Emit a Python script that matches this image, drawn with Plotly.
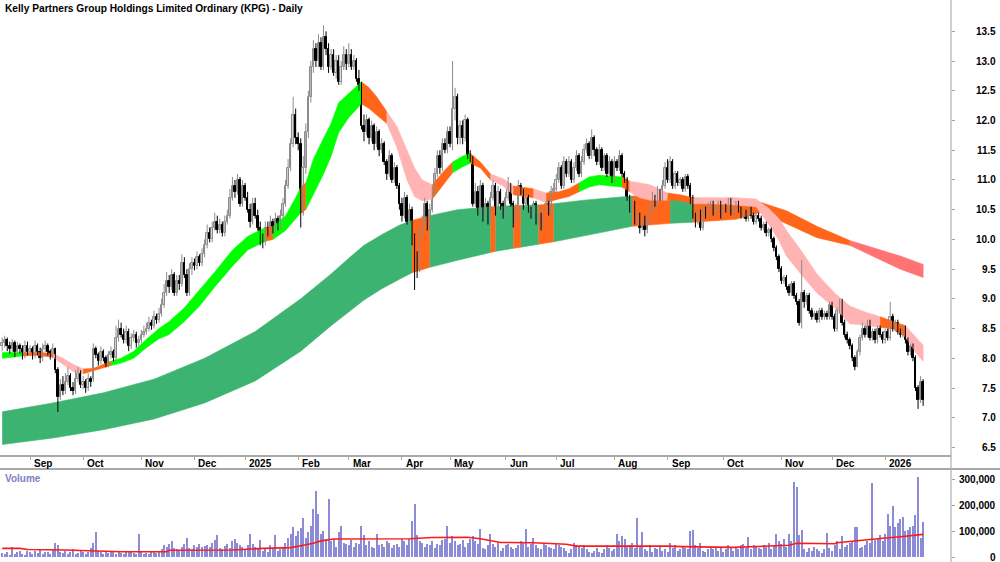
import numpy as np
import pandas as pd
import plotly.graph_objects as go

TITLE = "Kelly Partners Group Holdings Limited Ordinary (KPG) - Daily"
START, END = "2024-08-16", "2026-01-23"
HOLIDAYS = ["2024-12-25", "2024-12-26", "2025-01-01", "2025-01-27", "2025-04-18",
            "2025-04-21", "2025-04-25", "2025-06-09", "2025-12-25", "2025-12-26", "2026-01-01"]

opens = [
    8.20, 8.25, 8.30, 8.20, 8.15, 8.25, 8.10, 8.20, 8.15, 8.05,
    8.20, 8.10, 8.15, 8.05, 8.20, 8.10, 8.00, 8.15, 8.20, 8.10,
    8.05, 8.15, 7.80, 7.35, 7.55, 7.45, 7.60, 7.70, 7.50, 7.45,
    7.65, 7.75, 7.55, 7.60, 7.50, 7.65, 7.65, 8.15, 8.05, 7.95,
    8.10, 8.00, 7.90, 8.05, 8.10, 8.00, 8.35, 8.50, 8.40, 8.30,
    8.45, 8.20, 8.35, 8.40, 8.25, 8.30, 8.40, 8.45, 8.50, 8.60,
    8.55, 8.70, 8.65, 8.75, 8.90, 9.10, 9.30, 9.20, 9.40, 9.10,
    9.30, 9.25, 9.60, 9.40, 9.10, 9.50, 9.60, 9.55, 9.70, 9.60,
    9.75, 9.90, 10.10, 10.00, 10.20, 10.30, 10.15, 10.25, 10.10, 10.30,
    10.40, 10.70, 10.90, 10.80, 11.00, 10.60, 10.90, 10.70, 10.50, 10.30,
    10.60, 10.40, 10.20, 10.00, 9.95, 10.20, 10.10, 10.30, 10.15, 10.35,
    10.20, 10.40, 10.60, 10.90, 11.20, 11.60, 12.10, 11.70, 11.60, 10.45,
    11.20, 11.80, 12.40, 12.90, 13.20, 13.00, 13.30, 12.90, 13.40, 13.20,
    12.90, 13.10, 12.80, 13.00, 12.65, 12.90, 13.10, 12.95, 13.10, 12.90,
    13.00, 12.70, 12.60, 11.90, 11.80, 12.00, 11.70, 11.90, 11.60, 11.80,
    11.50, 11.60, 11.30, 11.10, 11.40, 11.00, 11.20, 10.90, 10.60, 10.40,
    10.70, 10.30, 10.50, 10.00, 9.60, 9.50, 10.10, 10.30, 10.60, 10.20,
    10.50, 10.80, 11.10, 11.40, 11.20, 11.60, 11.50, 11.80, 11.60, 12.20,
    12.40, 11.70, 11.90, 11.70, 12.00, 11.40, 11.35, 10.60, 10.80, 10.50,
    10.90, 10.40, 10.60, 10.30, 10.70, 10.90, 10.50, 10.80, 10.60, 10.40,
    10.70, 10.90, 10.60, 10.30, 10.50, 10.90, 10.80, 10.60, 10.70, 10.50,
    10.40, 10.60, 10.30, 10.40, 10.20, 10.50, 10.60, 10.45, 10.80, 10.85,
    11.00, 11.20, 10.90, 11.30, 11.10, 11.30, 11.00, 11.20, 11.40, 11.10,
    11.30, 11.50, 11.60, 11.40, 11.70, 11.50, 11.30, 11.50, 11.20, 11.40,
    11.10, 11.30, 11.00, 11.30, 11.20, 11.40, 11.10, 11.00, 10.70, 10.50,
    10.60, 10.30, 10.40, 10.20, 10.35, 10.15, 10.30, 10.50, 10.70, 10.60,
    10.80, 10.70, 10.90, 11.20, 11.00, 11.30, 10.90, 11.10, 10.95, 11.00,
    10.85, 11.05, 10.90, 10.70, 10.40, 10.30, 10.45, 10.20, 10.50, 10.40,
    10.55, 10.60, 10.45, 10.50, 10.60, 10.40, 10.55, 10.50, 10.65, 10.45,
    10.50, 10.60, 10.50, 10.40, 10.45, 10.35, 10.50, 10.40, 10.30, 10.40,
    10.35, 10.20, 10.25, 10.10, 10.15, 10.00, 9.85, 9.70, 9.50, 9.30,
    9.35, 9.20, 9.10, 9.25, 9.05, 8.95, 8.60, 9.10, 8.95, 9.05,
    8.80, 8.70, 8.75, 8.65, 8.80, 8.70, 8.75, 8.70, 8.90, 8.70,
    8.50, 8.80, 8.95, 8.60, 8.40, 8.30, 8.20, 8.00, 7.85, 8.10,
    8.35, 8.50, 8.40, 8.60, 8.35, 8.45, 8.30, 8.50, 8.40, 8.30,
    8.45, 8.35, 8.70, 8.50, 8.60, 8.45, 8.40, 8.50, 8.30, 8.10,
    8.20, 8.00, 7.50, 7.30, 7.60,
]

highs = [
    8.35, 8.38, 8.35, 8.28, 8.32, 8.30, 8.28, 8.25, 8.22, 8.30,
    8.28, 8.22, 8.20, 8.30, 8.25, 8.18, 8.25, 8.30, 8.25, 8.15,
    8.25, 8.18, 7.85, 7.65, 7.70, 7.75, 7.85, 7.75, 7.60, 7.80,
    7.85, 7.80, 7.70, 7.65, 7.75, 7.70, 8.25, 8.20, 8.10, 8.20,
    8.15, 8.05, 8.12, 8.20, 8.15, 8.55, 8.65, 8.60, 8.50, 8.55,
    8.50, 8.42, 8.48, 8.45, 8.38, 8.48, 8.55, 8.60, 8.70, 8.65,
    8.80, 8.75, 8.85, 9.00, 9.25, 9.45, 9.40, 9.50, 9.45, 9.40,
    9.40, 9.75, 9.70, 9.50, 9.60, 9.70, 9.68, 9.80, 9.75, 9.85,
    10.00, 10.25, 10.20, 10.30, 10.45, 10.40, 10.35, 10.30, 10.40, 10.50,
    10.85, 11.05, 11.00, 11.10, 11.05, 11.00, 10.95, 10.80, 10.60, 10.70,
    10.70, 10.50, 10.30, 10.10, 10.30, 10.30, 10.40, 10.35, 10.45, 10.40,
    10.50, 10.70, 11.00, 11.35, 11.70, 12.40, 12.20, 11.80, 11.70, 11.40,
    11.95, 12.50, 13.00, 13.35, 13.30, 13.45, 13.40, 13.60, 13.50, 13.30,
    13.20, 13.20, 13.10, 13.10, 13.00, 13.25, 13.20, 13.30, 13.20, 13.10,
    13.05, 12.85, 12.65, 12.10, 12.10, 12.05, 12.00, 11.95, 11.90, 11.85,
    11.70, 11.65, 11.35, 11.50, 11.45, 11.30, 11.25, 10.95, 10.70, 10.80,
    10.75, 10.60, 10.55, 10.10, 9.80, 10.20, 10.40, 10.70, 10.65, 10.60,
    10.90, 11.20, 11.50, 11.50, 11.70, 11.70, 11.90, 11.90, 13.00, 12.55,
    12.45, 12.00, 12.00, 12.10, 12.05, 11.50, 11.40, 10.95, 10.90, 11.00,
    10.95, 10.70, 10.65, 10.80, 11.00, 10.95, 10.90, 10.85, 10.65, 10.80,
    11.05, 10.95, 10.65, 10.60, 11.00, 10.95, 10.85, 10.80, 10.75, 10.55,
    10.65, 10.65, 10.45, 10.45, 10.55, 10.65, 10.65, 10.90, 10.95, 11.10,
    11.30, 11.25, 11.40, 11.35, 11.40, 11.35, 11.30, 11.50, 11.45, 11.40,
    11.60, 11.70, 11.65, 11.85, 11.75, 11.55, 11.60, 11.55, 11.45, 11.45,
    11.40, 11.35, 11.40, 11.35, 11.50, 11.45, 11.15, 11.05, 10.75, 10.70,
    10.65, 10.45, 10.45, 10.40, 10.40, 10.35, 10.60, 10.80, 10.75, 10.90,
    10.85, 11.00, 11.30, 11.35, 11.40, 11.35, 11.15, 11.15, 11.05, 11.05,
    11.10, 11.10, 10.95, 10.75, 10.45, 10.55, 10.50, 10.55, 10.55, 10.62,
    10.65, 10.65, 10.55, 10.65, 10.65, 10.60, 10.60, 10.70, 10.70, 10.55,
    10.65, 10.65, 10.55, 10.50, 10.50, 10.55, 10.55, 10.45, 10.45, 10.45,
    10.40, 10.30, 10.30, 10.20, 10.20, 10.05, 9.90, 9.75, 9.55, 9.40,
    9.40, 9.25, 9.30, 9.30, 9.10, 9.00, 9.65, 9.15, 9.10, 9.10,
    8.85, 8.80, 8.80, 8.85, 8.85, 8.80, 8.80, 8.95, 8.95, 8.75,
    8.85, 9.00, 9.00, 8.65, 8.45, 8.35, 8.25, 8.05, 8.15, 8.40,
    8.60, 8.55, 8.65, 8.65, 8.50, 8.50, 8.55, 8.55, 8.45, 8.50,
    8.50, 8.95, 8.75, 8.65, 8.65, 8.50, 8.55, 8.55, 8.35, 8.25,
    8.25, 8.05, 7.55, 7.70, 7.65,
]

lows = [
    8.12, 8.18, 8.12, 8.08, 8.10, 8.02, 8.05, 8.08, 7.98, 8.00,
    8.05, 8.05, 7.98, 8.00, 8.05, 7.92, 7.95, 8.10, 8.05, 7.98,
    8.00, 7.75, 7.10, 7.30, 7.38, 7.40, 7.55, 7.45, 7.38, 7.40,
    7.60, 7.50, 7.48, 7.42, 7.45, 7.52, 7.60, 8.00, 7.88, 7.90,
    7.95, 7.85, 7.85, 8.00, 7.95, 7.95, 8.28, 8.35, 8.25, 8.25,
    8.12, 8.15, 8.28, 8.18, 8.20, 8.25, 8.35, 8.40, 8.45, 8.48,
    8.50, 8.58, 8.60, 8.70, 8.85, 9.05, 9.10, 9.15, 9.05, 9.05,
    9.15, 9.20, 9.35, 9.05, 9.05, 9.40, 9.48, 9.50, 9.55, 9.55,
    9.70, 9.85, 9.95, 9.95, 10.15, 10.10, 10.10, 10.05, 10.05, 10.25,
    10.35, 10.65, 10.70, 10.75, 10.55, 10.55, 10.65, 10.45, 10.20, 10.25,
    10.35, 10.15, 9.90, 9.85, 9.90, 10.05, 10.05, 10.10, 10.10, 10.15,
    10.15, 10.35, 10.55, 10.85, 11.15, 11.55, 11.60, 11.50, 10.20, 10.40,
    11.10, 11.70, 12.30, 12.80, 12.90, 12.90, 12.85, 12.85, 13.10, 12.80,
    12.85, 12.75, 12.70, 12.60, 12.60, 12.85, 12.85, 12.90, 12.85, 12.85,
    12.65, 12.50, 11.85, 11.65, 11.75, 11.60, 11.65, 11.50, 11.55, 11.40,
    11.45, 11.25, 11.00, 11.05, 10.95, 10.95, 10.85, 10.50, 10.30, 10.35,
    10.25, 10.25, 9.90, 9.15, 9.35, 9.45, 10.05, 10.25, 10.15, 10.15,
    10.45, 10.75, 11.05, 11.10, 11.15, 11.45, 11.45, 11.55, 11.50, 12.00,
    11.60, 11.60, 11.60, 11.65, 11.35, 11.30, 10.55, 10.55, 10.40, 10.45,
    10.30, 10.35, 10.25, 10.25, 10.65, 10.40, 10.45, 10.50, 10.35, 10.35,
    10.65, 10.55, 10.20, 10.25, 10.45, 10.75, 10.50, 10.55, 10.45, 10.35,
    10.35, 10.25, 10.25, 10.15, 10.15, 10.45, 10.40, 10.40, 10.75, 10.80,
    10.95, 10.85, 10.85, 11.05, 11.05, 10.95, 10.95, 11.15, 11.05, 11.05,
    11.25, 11.45, 11.35, 11.35, 11.40, 11.25, 11.25, 11.15, 11.15, 11.05,
    11.05, 10.95, 10.95, 11.15, 11.15, 11.05, 10.95, 10.65, 10.45, 10.45,
    10.25, 10.25, 10.10, 10.15, 10.05, 10.10, 10.25, 10.45, 10.55, 10.55,
    10.65, 10.65, 10.85, 10.95, 10.95, 10.85, 10.85, 10.90, 10.90, 10.80,
    10.80, 10.85, 10.60, 10.35, 10.20, 10.25, 10.15, 10.15, 10.35, 10.35,
    10.50, 10.40, 10.40, 10.45, 10.35, 10.35, 10.45, 10.45, 10.40, 10.40,
    10.45, 10.45, 10.35, 10.35, 10.30, 10.30, 10.35, 10.25, 10.25, 10.30,
    10.15, 10.15, 10.05, 10.05, 9.95, 9.80, 9.65, 9.45, 9.25, 9.25,
    9.15, 9.05, 9.05, 9.00, 8.90, 8.55, 8.50, 8.85, 8.90, 8.75,
    8.65, 8.65, 8.60, 8.60, 8.65, 8.65, 8.65, 8.65, 8.65, 8.45,
    8.45, 8.75, 8.55, 8.35, 8.25, 8.15, 7.95, 7.80, 7.85, 8.05,
    8.30, 8.35, 8.35, 8.30, 8.30, 8.25, 8.25, 8.35, 8.25, 8.25,
    8.30, 8.30, 8.45, 8.45, 8.40, 8.35, 8.35, 8.25, 8.05, 8.05,
    7.95, 7.45, 7.15, 7.25, 7.20,
]

closes = [
    8.25, 8.30, 8.20, 8.15, 8.25, 8.10, 8.20, 8.15, 8.05, 8.20,
    8.10, 8.15, 8.05, 8.20, 8.10, 8.00, 8.15, 8.20, 8.10, 8.05,
    8.15, 7.80, 7.35, 7.55, 7.45, 7.60, 7.70, 7.50, 7.45, 7.65,
    7.75, 7.55, 7.60, 7.50, 7.65, 7.60, 8.15, 8.05, 7.95, 8.10,
    8.00, 7.90, 8.05, 8.10, 8.00, 8.35, 8.50, 8.40, 8.30, 8.45,
    8.20, 8.35, 8.40, 8.25, 8.30, 8.40, 8.45, 8.50, 8.60, 8.55,
    8.70, 8.65, 8.75, 8.90, 9.10, 9.30, 9.20, 9.40, 9.10, 9.30,
    9.25, 9.60, 9.40, 9.10, 9.50, 9.60, 9.55, 9.70, 9.60, 9.75,
    9.90, 10.10, 10.00, 10.20, 10.30, 10.15, 10.25, 10.10, 10.30, 10.40,
    10.70, 10.90, 10.80, 11.00, 10.60, 10.90, 10.70, 10.50, 10.30, 10.60,
    10.40, 10.20, 10.00, 9.95, 10.20, 10.10, 10.30, 10.15, 10.35, 10.20,
    10.40, 10.60, 10.90, 11.20, 11.60, 12.10, 11.70, 11.60, 10.45, 11.20,
    11.80, 12.40, 12.90, 13.20, 13.00, 13.30, 12.90, 13.40, 13.20, 12.90,
    13.10, 12.80, 13.00, 12.65, 12.90, 13.10, 12.95, 13.10, 12.90, 13.00,
    12.70, 12.60, 11.90, 11.80, 12.00, 11.70, 11.90, 11.60, 11.80, 11.50,
    11.60, 11.30, 11.10, 11.40, 11.00, 11.20, 10.90, 10.60, 10.40, 10.70,
    10.30, 10.50, 10.00, 9.60, 9.50, 10.10, 10.30, 10.60, 10.20, 10.50,
    10.80, 11.10, 11.40, 11.20, 11.60, 11.50, 11.80, 11.60, 12.20, 12.40,
    11.70, 11.90, 11.70, 12.00, 11.40, 11.35, 10.60, 10.80, 10.50, 10.90,
    10.40, 10.60, 10.30, 10.70, 10.90, 10.50, 10.80, 10.60, 10.40, 10.70,
    10.90, 10.60, 10.30, 10.50, 10.90, 10.80, 10.60, 10.70, 10.50, 10.40,
    10.60, 10.30, 10.40, 10.20, 10.50, 10.60, 10.45, 10.80, 10.85, 11.00,
    11.20, 10.90, 11.30, 11.10, 11.30, 11.00, 11.20, 11.40, 11.10, 11.30,
    11.50, 11.60, 11.40, 11.70, 11.50, 11.30, 11.50, 11.20, 11.40, 11.10,
    11.30, 11.00, 11.30, 11.20, 11.40, 11.10, 11.00, 10.70, 10.50, 10.60,
    10.30, 10.40, 10.20, 10.35, 10.15, 10.30, 10.50, 10.70, 10.60, 10.80,
    10.70, 10.90, 11.20, 11.00, 11.30, 10.90, 11.10, 10.95, 11.00, 10.85,
    11.05, 10.90, 10.70, 10.40, 10.30, 10.45, 10.20, 10.50, 10.40, 10.55,
    10.60, 10.45, 10.50, 10.60, 10.40, 10.55, 10.50, 10.65, 10.45, 10.50,
    10.60, 10.50, 10.40, 10.45, 10.35, 10.50, 10.40, 10.30, 10.40, 10.35,
    10.20, 10.25, 10.10, 10.15, 10.00, 9.85, 9.70, 9.50, 9.30, 9.35,
    9.20, 9.10, 9.25, 9.05, 8.95, 8.60, 9.10, 8.95, 9.05, 8.80,
    8.70, 8.75, 8.65, 8.80, 8.70, 8.75, 8.70, 8.90, 8.70, 8.50,
    8.80, 8.95, 8.60, 8.40, 8.30, 8.20, 8.00, 7.85, 8.10, 8.35,
    8.50, 8.40, 8.60, 8.35, 8.45, 8.30, 8.50, 8.40, 8.30, 8.45,
    8.35, 8.70, 8.50, 8.60, 8.45, 8.40, 8.50, 8.30, 8.10, 8.20,
    8.00, 7.50, 7.30, 7.60, 7.30,
]

volumes_k = [
    15, 12, 20, 8, 40, 10, 18, 25, 12, 8,
    22, 18, 10, 25, 15, 30, 12, 20, 18, 10,
    28, 52, 45, 20, 15, 25, 12, 18, 30, 10,
    15, 22, 18, 12, 20, 35, 55, 97, 25, 18,
    12, 20, 15, 25, 18, 10, 22, 15, 12, 20,
    18, 25, 15, 12, 88, 20, 10, 15, 12, 18,
    20, 15, 25, 30, 45, 38, 50, 60, 35, 30,
    25, 40, 50, 75, 35, 30, 45, 40, 50, 38,
    42, 48, 40, 55, 65, 85, 35, 30, 42, 50,
    35, 60, 70, 55, 45, 40, 30, 45, 88, 50,
    40, 30, 65, 25, 35, 20, 45, 30, 85, 25,
    30, 40, 55, 75, 90, 115, 80, 100, 110, 151,
    75, 95, 120, 185, 255, 165, 90, 101, 70, 223,
    60, 70, 40, 95, 120, 55, 50, 45, 65, 40,
    55, 50, 119, 85, 45, 60, 40, 35, 88, 45,
    50, 40, 60, 55, 35, 45, 50, 40, 70, 60,
    45, 70, 140, 204, 85, 60, 55, 40, 50, 45,
    60, 35, 50, 45, 65, 70, 119, 55, 80, 60,
    45, 50, 65, 40, 55, 70, 80, 60, 50, 109,
    35, 30, 45, 87, 50, 40, 55, 25, 35, 45,
    50, 40, 30, 35, 45, 60, 55, 108, 40, 50,
    74, 45, 35, 30, 55, 45, 40, 35, 30, 50,
    45, 40, 35, 25, 15, 30, 55, 45, 40, 35,
    45, 30, 20, 15, 25, 35, 20, 15, 30, 45,
    35, 25, 30, 87, 60, 82, 70, 40, 45, 55,
    35, 151, 40, 95, 30, 25, 45, 20, 35, 30,
    40, 25, 30, 20, 55, 35, 45, 25, 30, 40,
    35, 30, 101, 104, 45, 35, 55, 25, 20, 30,
    40, 30, 35, 25, 40, 20, 30, 45, 35, 25,
    40, 30, 45, 50, 35, 78, 30, 45, 40, 35,
    30, 45, 40, 55, 30, 45, 88, 60, 50, 70,
    40, 88, 60, 290, 269, 85, 104, 30, 20, 35,
    25, 40, 30, 25, 15, 30, 94, 35, 25, 45,
    60, 30, 81, 40, 45, 55, 60, 117, 115, 35,
    40, 45, 60, 55, 283, 65, 70, 85, 60, 90,
    164, 120, 196, 117, 130, 146, 153, 100, 104, 115,
    119, 162, 306, 74, 136,
]

# volume moving average, read at knots (trading-day index, thousands)
vma_idx = [0, 7, 10, 25, 47, 65, 66, 91, 103, 114, 119, 123, 126, 131, 161, 170,
           184, 189, 197, 210, 223, 227, 263, 269, 289, 309, 311, 314, 329, 330,
           335, 342, 348, 355, 360, 364]
vma_k = [33, 33, 29, 27, 20, 20, 26, 27, 33, 36, 45, 53, 62, 69, 70, 75,
         76, 70, 56, 55, 49, 42, 42, 40, 37, 42, 45, 53, 51, 55,
         59, 65, 72, 78, 82, 87]

# short-term moving-average ribbon (edges read at knots, by trading-day index)
sb_idx = [0, 4, 8, 14, 20, 24, 28, 32, 36, 40,
          43, 47, 52, 57, 62, 66, 72, 78, 84, 91,
          97, 104, 107, 112, 116, 118, 120, 123, 127, 130,
          133, 137, 142, 145, 148, 152, 156, 160, 163, 166,
          170, 174, 178, 182, 185, 189, 193, 198, 202, 206,
          210, 215, 220, 224, 228, 232, 236, 240, 245, 248,
          252, 256, 263, 268, 273, 280, 290, 298, 303, 307,
          310, 316, 322, 329, 335, 341, 347, 352, 357, 361,
          364]
sb_top = [8.10, 8.10, 8.10, 8.10, 8.08, 8.00, 7.90, 7.82, 7.83, 7.90,
          7.95, 8.00, 8.12, 8.32, 8.50, 8.62, 8.85, 9.15, 9.45, 9.82,
          10.05, 10.20, 10.22, 10.40, 10.70, 10.88, 10.95, 11.35, 11.70, 11.95,
          12.30, 12.45, 12.65, 12.55, 12.40, 12.15, 11.90, 11.50, 11.20, 11.00,
          10.92, 11.12, 11.30, 11.40, 11.45, 11.30, 11.10, 11.02, 10.90, 10.88,
          10.85, 10.78, 10.80, 10.85, 10.95, 11.05, 11.08, 11.07, 11.05, 10.98,
          10.95, 10.92, 10.78, 10.75, 10.70, 10.70, 10.70, 10.68, 10.52, 10.35,
          10.15, 9.80, 9.42, 9.10, 8.88, 8.78, 8.70, 8.62, 8.55, 8.36,
          8.22]
sb_bot = [8.00, 8.02, 8.04, 8.05, 8.02, 7.90, 7.78, 7.74, 7.78, 7.84,
          7.88, 7.92, 8.00, 8.18, 8.33, 8.40, 8.62, 8.88, 9.20, 9.55,
          9.82, 9.97, 10.00, 10.15, 10.35, 10.45, 10.50, 10.75, 11.10, 11.40,
          11.80, 12.05, 12.28, 12.20, 12.10, 11.95, 11.55, 11.00, 10.72, 10.65,
          10.68, 10.90, 11.12, 11.22, 11.28, 11.20, 11.00, 10.90, 10.75, 10.72,
          10.70, 10.62, 10.68, 10.72, 10.80, 10.88, 10.92, 10.90, 10.88, 10.80,
          10.70, 10.66, 10.66, 10.65, 10.60, 10.60, 10.58, 10.55, 10.25, 9.98,
          9.72, 9.40, 9.10, 8.85, 8.58, 8.56, 8.52, 8.50, 8.36, 8.10,
          7.95]
sb_run_start = [0, 8, 20, 32, 43, 104, 107, 118, 120, 142, 152, 170, 178,
                185, 193, 202, 210, 215, 228, 245, 248, 263, 273, 347, 357]
sb_run_state = ["up", "mixed", "down", "mixed", "up", "mixed", "up", "mixed", "up",
                "mixed", "down", "mixed", "up", "mixed", "down", "mixed", "down",
                "mixed", "up", "mixed", "down", "mixed", "down", "mixed", "down"]

# long-term moving-average ribbon
lb_idx = [0, 20, 40, 60, 80, 100, 118, 130, 138, 143,
          150, 157, 162, 169, 180, 193, 195, 202, 205, 212,
          218, 230, 249, 264, 273, 290, 300, 310, 322, 335,
          345, 355, 364]
lb_top = [7.10, 7.25, 7.42, 7.65, 8.00, 8.45, 9.00, 9.42, 9.72, 9.90,
          10.08, 10.24, 10.32, 10.40, 10.50, 10.55, 10.55, 10.57, 10.57, 10.58,
          10.60, 10.66, 10.73, 10.72, 10.70, 10.65, 10.62, 10.48, 10.22, 9.98,
          9.85, 9.72, 9.58]
lb_bot = [6.55, 6.66, 6.80, 6.98, 7.25, 7.62, 8.12, 8.55, 8.82, 8.98,
          9.17, 9.33, 9.44, 9.53, 9.65, 9.78, 9.80, 9.85, 9.87, 9.92,
          9.96, 10.06, 10.22, 10.27, 10.29, 10.34, 10.46, 10.26, 10.03, 9.90,
          9.70, 9.50, 9.36]
lb_run_start = [0, 162, 169, 193, 195, 202, 205, 212, 218, 249, 264, 273, 335]
lb_run_state = ["up", "mixed", "up", "mixed", "up", "mixed", "up", "mixed", "up",
                "mixed", "up", "mixed", "down"]

price_ticks = [6.5, 7.0, 7.5, 8.0, 8.5, 9.0, 9.5, 10.0, 10.5, 11.0, 11.5, 12.0, 12.5, 13.0, 13.5]
volume_ticks = [0, 100000, 200000, 300000]

# ---------------------------------------------------------------- layout constants
W, H = 1000, 562
PLOT_RIGHT = 951           # px, right edge of plotting area (axis line)
PX_PER_DAY, X0_PX = 2.53, 2.2
PRICE_BOTTOM, VOL_TOP = 455, 469
FONT = "Liberation Sans, Arial, sans-serif"
SB_COL = {"up": "#00FF00", "mixed": "#FF661A", "down": "#FFB3B3"}
LB_COL = {"up": "#3CB371", "mixed": "#FF661A", "down": "#FF7373"}
UP_EDGE, DOWN_COL = "#8C8C8C", "#000000"


def py(px):
    return 1 - px / H


n = len(closes)
x = np.arange(n)
dates = pd.bdate_range(START, END)
dates = dates[~dates.isin(pd.to_datetime(HOLIDAYS))][:n]
per = pd.Series(dates).dt.to_period("M")
month_idx = [int(i) for i in np.where(~per.duplicated().values)[0] if i > 0]
month_lbl = [str(dates[i].year) if dates[i].month == 1 else dates[i].strftime("%b") for i in month_idx]

o = np.array(opens); c = np.array(closes)
hi = np.maximum(np.array(highs), np.maximum(o, c))
lo = np.minimum(np.array(lows), np.minimum(o, c))
vol = np.array(volumes_k) * 1000.0

fig = go.Figure()


def add_band(idx, top, bot, starts, states, colors):
    idx = np.array(idx); top = np.array(top); bot = np.array(bot)
    for k, s in enumerate(starts):
        e = starts[k + 1] if k + 1 < len(starts) else idx[-1]
        m = (idx >= s) & (idx <= e)
        xs = list(idx[m]) + list(idx[m][::-1])
        ys = list(top[m]) + list(bot[m][::-1])
        col = colors[states[k]]
        fig.add_trace(go.Scatter(x=xs, y=ys, mode="lines", fill="toself", fillcolor=col,
                                 line=dict(color=col, width=0.6), hoverinfo="skip",
                                 xaxis="x", yaxis="y"))


add_band(lb_idx, lb_top, lb_bot, lb_run_start, lb_run_state, LB_COL)
add_band(sb_idx, sb_top, sb_bot, sb_run_start, sb_run_state, SB_COL)

# candles: wicks then bodies
up = c >= o
for mask, col in [(up, UP_EDGE), (~up, DOWN_COL)]:
    xs, ys = [], []
    for i in np.where(mask)[0]:
        xs += [int(i), int(i), None]
        ys += [float(lo[i]), float(hi[i]), None]
    fig.add_trace(go.Scatter(x=xs, y=ys, mode="lines", line=dict(color=col, width=1),
                             hoverinfo="skip", xaxis="x", yaxis="y"))
body_lo = np.minimum(o, c)
body_h = np.maximum(np.abs(c - o), 0.02)
fig.add_trace(go.Bar(x=x, y=body_h, base=body_lo, width=0.62,
                     marker=dict(color=np.where(up, "white", DOWN_COL).tolist(),
                                 line=dict(color=np.where(up, UP_EDGE, DOWN_COL).tolist(), width=1)),
                     xaxis="x", yaxis="y", hoverinfo="skip"))

fig.add_trace(go.Bar(x=x, y=vol, width=0.45, marker=dict(color="#8C8CD6", line=dict(width=0)),
                     xaxis="x2", yaxis="y2", hoverinfo="skip"))
fig.add_trace(go.Scatter(x=vma_idx, y=np.array(vma_k) * 1000.0, mode="lines",
                         line=dict(color="#FF1A1A", width=1.6),
                         xaxis="x2", yaxis="y2", hoverinfo="skip"))

x_lo = -X0_PX / PX_PER_DAY
x_hi = (PLOT_RIGHT - X0_PX) / PX_PER_DAY
p_hi = 13.5 + 31.3 / 59.46
p_lo = 13.5 - (PRICE_BOTTOM - 31.3) / 59.46
v_per_px = 300000 / 78.0
v_hi = 300000 + (479 - VOL_TOP) * v_per_px
v_lo = -(H - 557) * v_per_px

fig.update_layout(
    width=W, height=H, margin=dict(l=0, r=0, t=0, b=0),
    paper_bgcolor="white", plot_bgcolor="white", showlegend=False,
    barmode="overlay", bargap=0,
    xaxis=dict(domain=[0, PLOT_RIGHT / W], range=[x_lo, x_hi], anchor="y",
               showgrid=False, zeroline=False, showline=True, linecolor="#A8A8A8", linewidth=2,
               ticks="outside", tickvals=month_idx, ticklen=3, tickcolor="#A8A8A8",
               showticklabels=False, fixedrange=True),
    yaxis=dict(domain=[py(PRICE_BOTTOM), 1], range=[p_lo, p_hi], anchor="x", side="right",
               showgrid=False, zeroline=False, showline=False, ticks="outside",
               tickvals=price_ticks, ticklen=3, tickcolor="#A0A0A0", showticklabels=False),
    xaxis2=dict(domain=[0, PLOT_RIGHT / W], range=[x_lo, x_hi], anchor="y2",
                showgrid=False, zeroline=False, showline=False, showticklabels=False, ticks=""),
    yaxis2=dict(domain=[0, py(VOL_TOP)], range=[v_lo, v_hi], anchor="x2", side="right",
                showgrid=False, zeroline=False, showline=False, ticks="outside",
                tickvals=volume_ticks, ticklen=3, tickcolor="#A0A0A0", showticklabels=False),
)

# frame lines
fig.add_shape(type="line", xref="paper", yref="paper", x0=PLOT_RIGHT / W, x1=PLOT_RIGHT / W,
              y0=0, y1=1, line=dict(color="#A0A0A0", width=1))
fig.add_shape(type="line", xref="paper", yref="paper", x0=0, x1=1,
              y0=py(VOL_TOP), y1=py(VOL_TOP), line=dict(color="#A8A8A8", width=2))

ann = []
ann.append(dict(text="<b>" + TITLE + "</b>", xref="paper", yref="paper", x=3 / W, y=py(8.5),
                xanchor="left", yanchor="middle", showarrow=False,
                font=dict(family=FONT, size=10.2, color="black")))
ann.append(dict(text="<b>Volume</b>", xref="paper", yref="paper", x=3 / W, y=py(478),
                xanchor="left", yanchor="middle", showarrow=False,
                font=dict(family=FONT, size=10, color="#8080C0")))
for i, lbl in zip(month_idx, month_lbl):
    ann.append(dict(text="<b>" + lbl + "</b>", xref="x", yref="paper", x=i, xshift=2,
                    y=py(463), xanchor="left", yanchor="middle", showarrow=False,
                    font=dict(family=FONT, size=10, color="black")))
for v in price_ticks:
    ann.append(dict(text="<b>%.1f</b>" % v, xref="paper", yref="y", x=998 / W, y=v,
                    xanchor="right", yanchor="middle", showarrow=False,
                    font=dict(family=FONT, size=10, color="black")))
for v in volume_ticks:
    ann.append(dict(text="<b>{:,}</b>".format(v), xref="paper", yref="y2", x=998 / W, y=v,
                    xanchor="right", yanchor="middle", showarrow=False,
                    font=dict(family=FONT, size=10, color="black")))
fig.update_layout(annotations=ann)

fig.write_html("out.html")
